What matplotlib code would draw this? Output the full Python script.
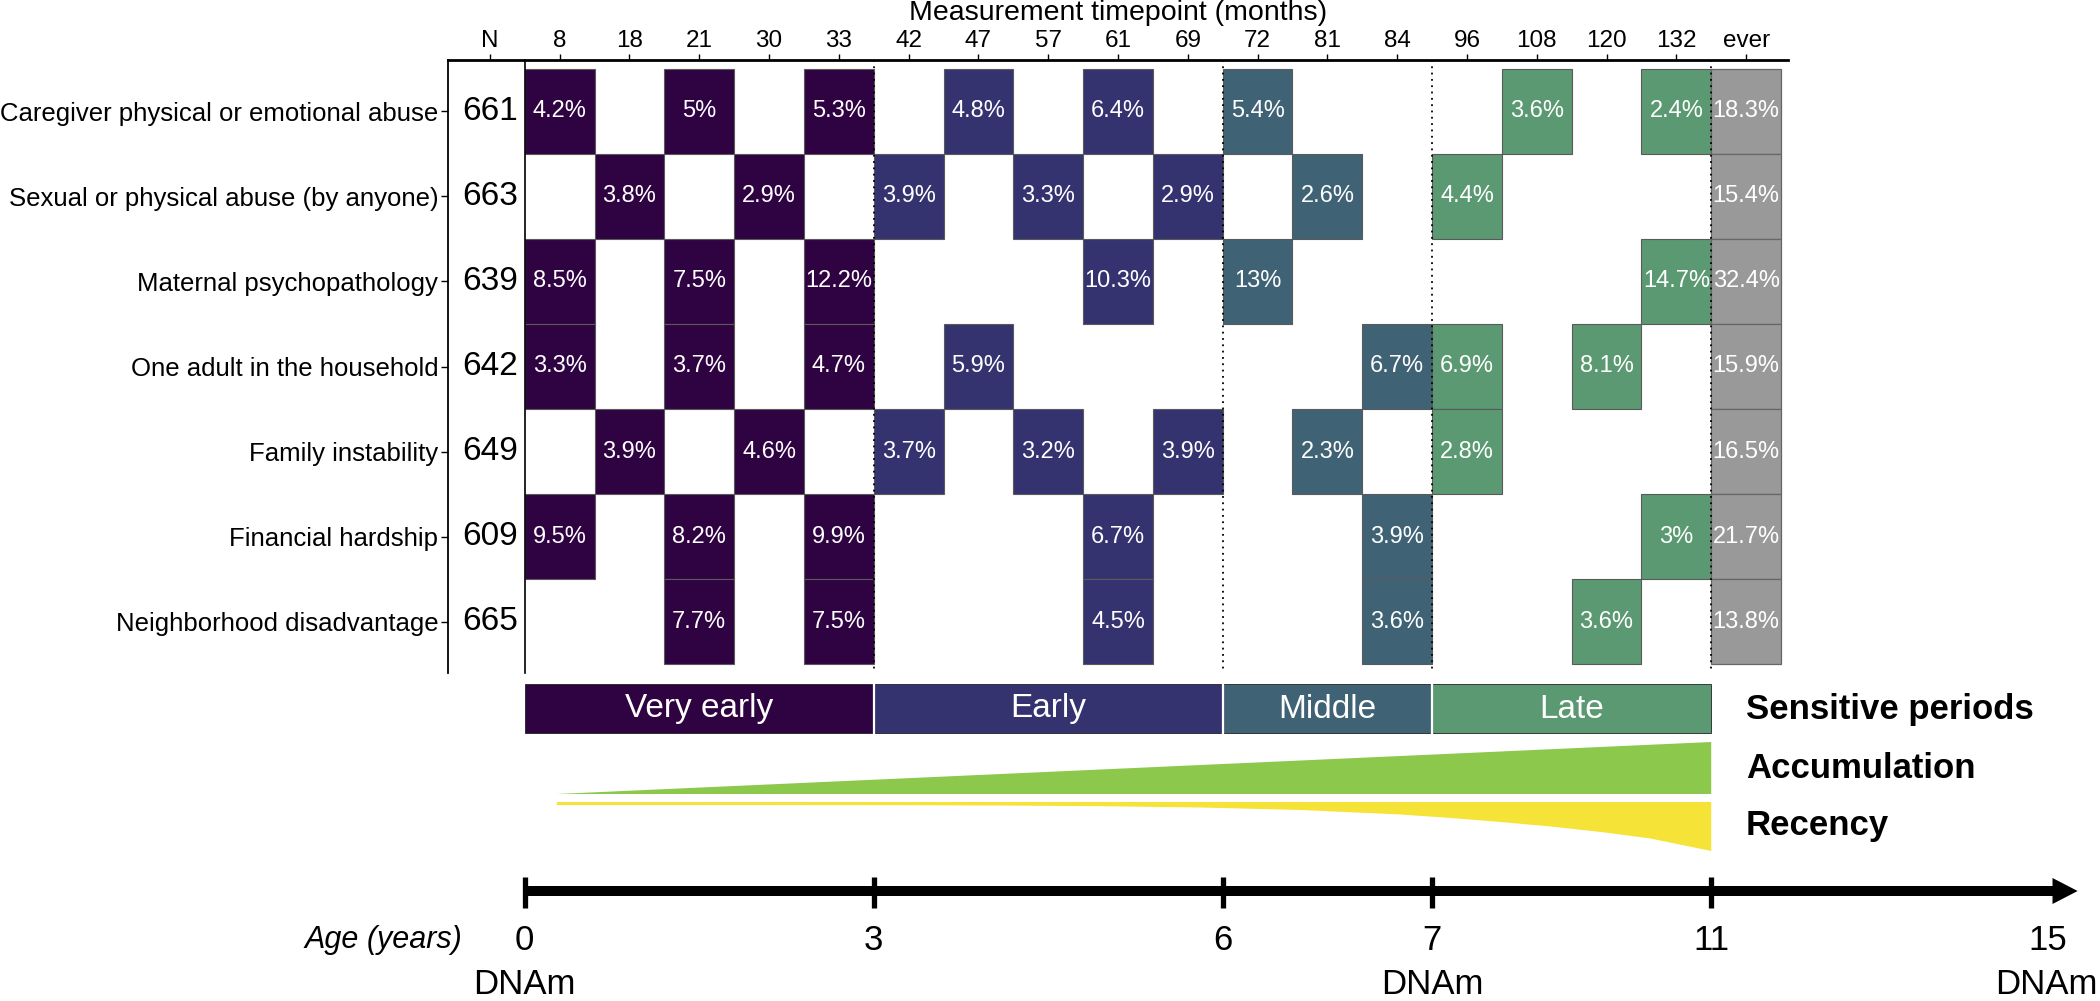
import matplotlib
matplotlib.use("Agg")
import matplotlib.pyplot as plt
from matplotlib.patches import Rectangle, Polygon

plt.rcParams['font.family'] = ['Liberation Sans', 'DejaVu Sans']

# ---------------- data ----------------
categories = ["Caregiver physical or emotional abuse",
              "Sexual or physical abuse (by anyone)",
              "Maternal psychopathology",
              "One adult in the household",
              "Family instability",
              "Financial hardship",
              "Neighborhood disadvantage"]
n_values = [661, 663, 639, 642, 649, 609, 665]
timepoints = ["8", "18", "21", "30", "33", "42", "47", "57", "61", "69",
              "72", "81", "84", "96", "108", "120", "132"]
caregiver = [4.2, None, 5, None, 5.3, None, 4.8, None, 6.4, None, 5.4, None, None, None, 3.6, None, 2.4]
sexual = [None, 3.8, None, 2.9, None, 3.9, None, 3.3, None, 2.9, None, 2.6, None, 4.4, None, None, None]
maternal = [8.5, None, 7.5, None, 12.2, None, None, None, 10.3, None, 13, None, None, None, None, None, 14.7]
one_adult = [3.3, None, 3.7, None, 4.7, None, 5.9, None, None, None, None, None, 6.7, 6.9, None, 8.1, None]
family = [None, 3.9, None, 4.6, None, 3.7, None, 3.2, None, 3.9, None, 2.3, None, 2.8, None, None, None]
financial = [9.5, None, 8.2, None, 9.9, None, None, None, 6.7, None, None, None, 3.9, None, None, None, 3]
neighborhood = [None, None, 7.7, None, 7.5, None, None, None, 4.5, None, None, None, 3.6, None, None, 3.6, None]
ever = [18.3, 15.4, 32.4, 15.9, 16.5, 21.7, 13.8]
rows = [caregiver, sexual, maternal, one_adult, family, financial, neighborhood]

period_names = ["Very early", "Early", "Middle", "Late"]
period_sizes = [5, 5, 3, 4]
period_colors = ["#2F0341", "#353270", "#3F6375", "#5A9971"]
ever_color = "#999999"

ages = ["0", "3", "6", "7", "11", "15"]
dnam_ages = ["0", "7", "15"]
# recency wedge thickness (px) read along the column axis
recency_x = [0.96, 3.02, 4.45, 5.89, 7.32, 8.75, 10.18, 11.62, 13.05, 13.77, 14.48, 15.20, 15.92, 16.63, 17.5]
recency_t = [3, 3, 3.1, 3.2, 3.5, 4.2, 5.5, 8, 12.5, 16, 20, 24.5, 30, 36.5, 49]

# ---------------- layout ----------------
W, H = 2100, 1001
fig = plt.figure(figsize=(W / 100, H / 100), dpi=100)
AX_L, AX_R, AX_T, AX_B = 448, 1788, 60, 673
unit = (AX_R - AX_L) / 19.2

ax = fig.add_axes([AX_L / W, 1 - AX_B / H, (AX_R - AX_L) / W, (AX_B - AX_T) / H])
ax.set_xlim(-0.6, 18.6)
ax.set_ylim(6.6, -0.6)

# cell colours per timepoint column
col_colors = []
for c, s in zip(period_colors, period_sizes):
    col_colors += [c] * s

for i, row in enumerate(rows):
    for j, v in enumerate(row):
        if v is None:
            continue
        x = j + 1
        ax.add_patch(Rectangle((x - 0.5, i - 0.5), 1, 1, facecolor=col_colors[j],
                               edgecolor="#5a5a5a", linewidth=0.8, zorder=2))
        ax.text(x, i, f"{v:g}%", color="white", ha="center", va="center",
                fontsize=17, zorder=4)
    ax.add_patch(Rectangle((18 - 0.5, i - 0.5), 1, 1, facecolor=ever_color,
                           edgecolor="#666666", linewidth=0.9, zorder=2))
    ax.text(18, i, f"{ever[i]:g}%", color="white", ha="center", va="center",
            fontsize=17, zorder=4)
    ax.text(0, i, str(n_values[i]), ha="center", va="center", fontsize=24, zorder=4)

# separators
ax.plot([0.5, 0.5], [-0.6, 6.6], color="black", lw=1.2, zorder=5, clip_on=False)
bounds = []
acc = 0.5
for s in period_sizes:
    acc += s
    bounds.append(acc)
for b in bounds:
    ax.plot([b, b], [-0.6, 6.6], color="black", lw=1.3, linestyle=(0, (1, 2.5)),
            zorder=5, clip_on=False)

ax.xaxis.tick_top()
ax.set_xticks(range(19))
ax.set_xticklabels(["N"] + timepoints + ["ever"])
ax.set_yticks(range(7))
ax.set_yticklabels(categories)
ax.tick_params(axis="x", length=4, width=1, pad=2, labelsize=17.5)
ax.tick_params(axis="y", length=5, width=1, pad=2, labelsize=18.5)
for sp in ["right", "bottom"]:
    ax.spines[sp].set_visible(False)
ax.spines["top"].set_linewidth(2)
ax.spines["left"].set_linewidth(1.3)
ax.text(0.5, (AX_B - 13) / (AX_B - AX_T), "Measurement timepoint (months)",
        transform=ax.transAxes, ha="center", va="center", fontsize=20.5)

# ---------------- lower panel ----------------
LOW_T = 676
ax2 = fig.add_axes([AX_L / W, 0, (W - AX_L) / W, (H - LOW_T) / H])
x_right = -0.6 + (W - AX_L) / unit
ax2.set_xlim(-0.6, x_right)
ax2.set_ylim(H, LOW_T)
ax2.axis("off")

# sensitive periods bar
starts = [0.5] + bounds[:-1]
for name, c, s0, s1 in zip(period_names, period_colors, starts, bounds):
    ax2.add_patch(Rectangle((s0, 684), s1 - s0, 49, facecolor=c, edgecolor="#222222",
                            linewidth=0.6))
    ax2.text((s0 + s1) / 2, 709, name, color="white", ha="center", va="center",
             fontsize=24)
for b in bounds[:-1]:
    ax2.plot([b, b], [684, 733], color="white", lw=1.6)

# accumulation wedge
tip = recency_x[0]
end = bounds[-1]
ax2.add_patch(Polygon([(tip, 794), (end, 742), (end, 794)], closed=True,
                      facecolor="#8BC84C", edgecolor="none"))
# recency wedge
top = [(x, 802) for x in recency_x]
bottom = [(x, 802 + t) for x, t in zip(recency_x, recency_t)]
ax2.add_patch(Polygon(top + bottom[::-1], closed=True, facecolor="#F5E338",
                      edgecolor="none"))

label_x = 18.0
ax2.text(label_x, 709, "Sensitive periods", fontweight="bold", fontsize=25,
         ha="left", va="center")
ax2.text(label_x, 768, "Accumulation", fontweight="bold", fontsize=25,
         ha="left", va="center")
ax2.text(label_x, 826, "Recency", fontweight="bold", fontsize=25,
         ha="left", va="center")

# timeline arrow
arrow_base = 22.39
arrow_tip = 22.75
ax2.plot([0.5, arrow_base + 0.02], [891, 891], color="black", lw=7.2,
         solid_capstyle="butt")
ax2.add_patch(Polygon([(arrow_base, 878), (arrow_tip, 891), (arrow_base, 904)],
                      closed=True, facecolor="black", edgecolor="none"))
age_pos = [0.5] + bounds + [22.32]
for p in age_pos[:-1]:
    ax2.plot([p, p], [877, 908], color="black", lw=3.8, solid_capstyle="butt")
for a, p in zip(ages, age_pos):
    ax2.text(p, 940, a, ha="center", va="center", fontsize=25)
for a in dnam_ages:
    if a == "15":
        ax2.text(x_right - 0.03, 985, "DNAm", ha="right", va="center", fontsize=25)
    else:
        ax2.text(age_pos[ages.index(a)], 985, "DNAm", ha="center", va="center",
                 fontsize=25)
ax2.text(-0.39, 940, "Age (years)", ha="right", va="center", fontsize=22,
         style="italic")

fig.savefig("out.png", dpi=100)
